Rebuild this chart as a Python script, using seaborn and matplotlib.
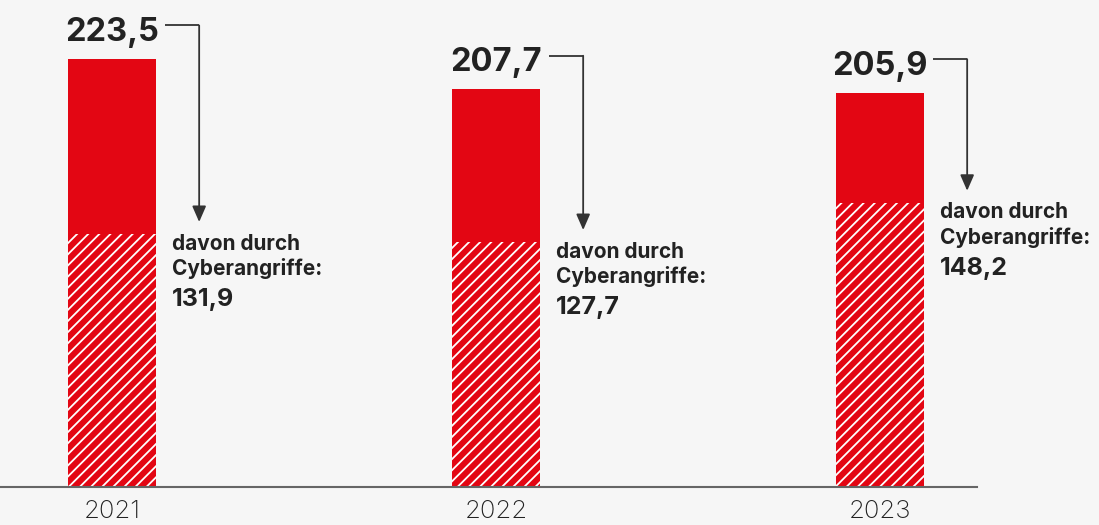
import matplotlib
matplotlib.use("Agg")
import matplotlib.pyplot as plt
import seaborn as sns
import pandas as pd

years = ["2021", "2022", "2023"]
total = [223.5, 207.7, 205.9]
cyber = [131.9, 127.7, 148.2]
total_labels = ["223,5", "207,7", "205,9"]
cyber_labels = ["131,9", "127,7", "148,2"]
note_text = "davon durch\nCyberangriffe:"

RED = "#e30613"
BG = "#f6f6f6"
DARK = "#222222"

sns.set_theme(style="white")
plt.rcParams["font.family"] = ["Inter", "DejaVu Sans"]
plt.rcParams["hatch.linewidth"] = 1.3

df = pd.DataFrame({"year": years, "total": total, "cyber": cyber})

fig = plt.figure(figsize=(10.99, 5.25), dpi=100, facecolor=BG)
ax = fig.add_axes([0, 38 / 525, 977 / 1099, 487 / 525])
ax.set_facecolor(BG)

bw = 88 / 384
sns.barplot(data=df, x="year", y="total", color=RED, saturation=1, width=bw,
            linewidth=0, ax=ax)
sns.barplot(data=df, x="year", y="cyber", color=RED, saturation=1, width=bw,
            linewidth=0, ax=ax)
for p in ax.patches[len(years):]:
    p.set_edgecolor("white")
    p.set_linewidth(0)
    p.set_hatch("///")

ax.set_xlim(-112 / 384, (977 - 112) / 384)
ax.set_ylim(0, 487 / 1.915)

for i, (t, c) in enumerate(zip(total, cyber)):
    ax.text(i, t + 9.5, total_labels[i], ha="center", va="baseline",
            fontsize=23.5, fontweight="bold", color=DARK)
    yl = t + 17.5
    ax.plot([i + 0.139, i + 0.227], [yl, yl], color="#333333", lw=1.3,
            solid_capstyle="butt")
    ax.annotate("", xy=(i + 0.227, c + 6.5), xytext=(i + 0.227, yl),
                arrowprops=dict(arrowstyle="-|>,head_length=0.8,head_width=0.35",
                                color="#333333", lw=1.3, shrinkA=0, shrinkB=0))
    ax.text(i + 0.157, c - 11.5, note_text, ha="left", va="center",
            fontsize=15, fontweight="bold", color=DARK, linespacing=1.28)
    ax.text(i + 0.157, c - 34, cyber_labels[i], ha="left", va="center",
            fontsize=18, fontweight="bold", color=DARK)

ax.set_xlabel("")
ax.set_ylabel("")
ax.set_yticks([])
ax.tick_params(axis="x", length=0, pad=9, labelsize=18.5, labelcolor=DARK)
for lbl in ax.get_xticklabels():
    lbl.set_fontweight("light")
for s in ["top", "right", "left"]:
    ax.spines[s].set_visible(False)
ax.spines["bottom"].set_color("#666666")
ax.spines["bottom"].set_linewidth(1.5)

fig.savefig("out.png", dpi=100, facecolor=BG)
